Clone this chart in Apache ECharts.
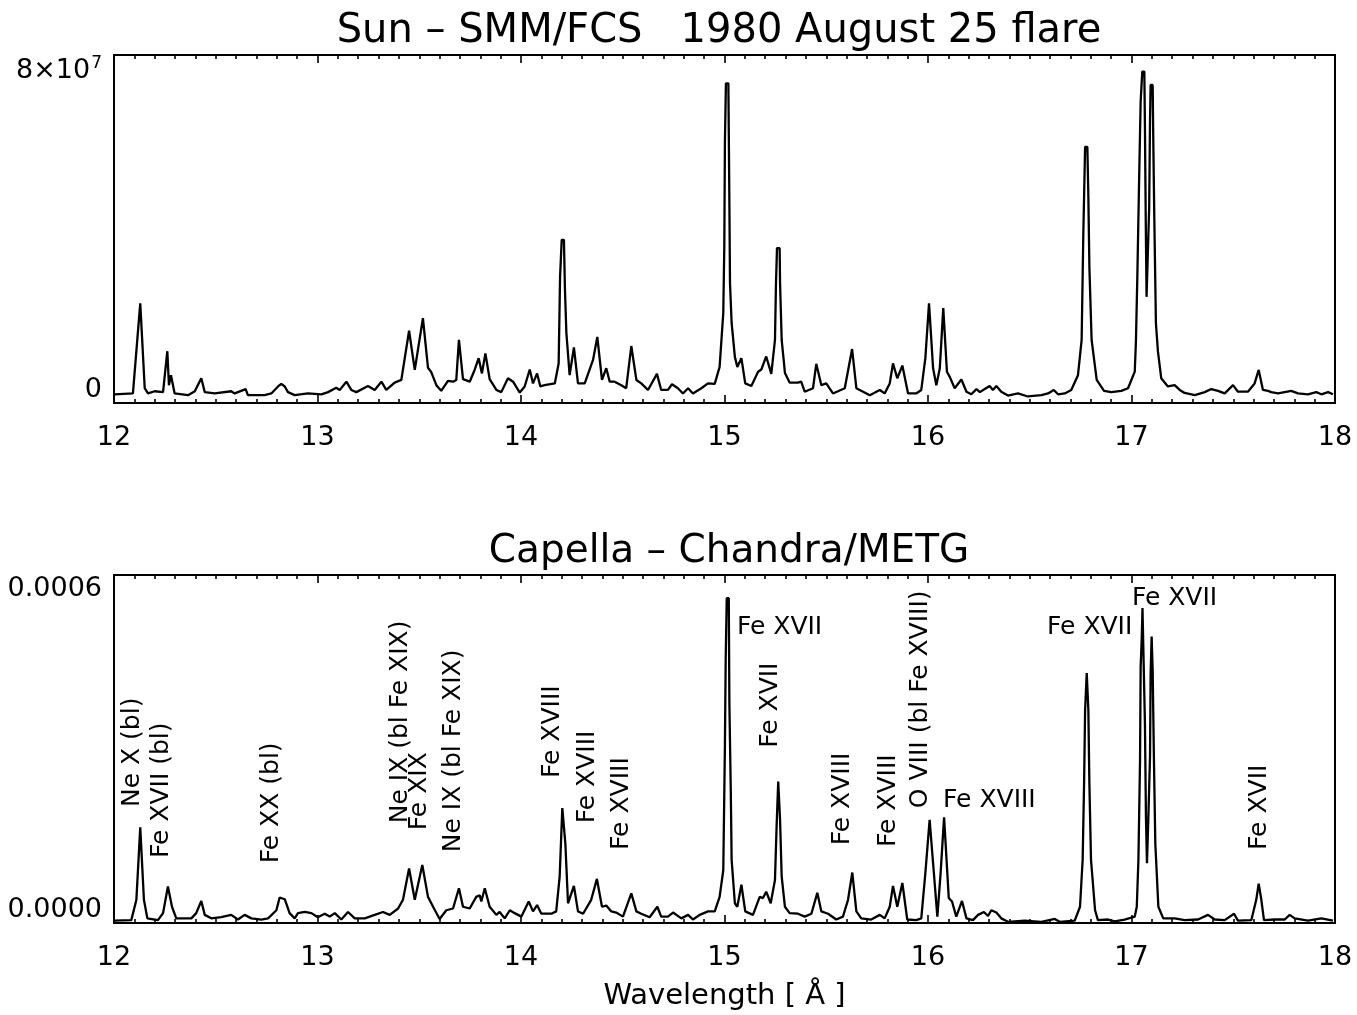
<!DOCTYPE html>
<html><head><meta charset="utf-8">
<script src="https://cdn.jsdelivr.net/npm/echarts@6/dist/echarts.min.js"></script>
<style>html,body{margin:0;padding:0;background:#fff}#chart{width:1357px;height:1015px}</style>
</head><body><div id="chart"></div>
<script>
// Sun – SMM/FCS spectrum: [wavelength (Å), flux in units of 1e7]
const sunSpectrum = [[12.003,0.20],[12.093,0.22],[12.129,2.29],[12.151,0.34],[12.167,0.22],[12.200,0.27],[12.241,0.25],[12.262,1.19],[12.270,0.41],[12.280,0.64],[12.298,0.22],[12.364,0.18],[12.397,0.27],[12.429,0.57],[12.446,0.25],[12.495,0.22],[12.576,0.27],[12.593,0.22],[12.647,0.32],[12.658,0.18],[12.740,0.18],[12.773,0.22],[12.806,0.38],[12.822,0.44],[12.839,0.38],[12.855,0.25],[12.888,0.18],[12.953,0.22],[13.019,0.20],[13.052,0.25],[13.092,0.35],[13.109,0.30],[13.142,0.49],[13.166,0.30],[13.191,0.25],[13.248,0.39],[13.281,0.30],[13.314,0.49],[13.338,0.30],[13.379,0.47],[13.412,0.53],[13.450,1.66],[13.478,0.76],[13.518,1.95],[13.543,0.81],[13.559,0.71],[13.584,0.41],[13.608,0.28],[13.641,0.51],[13.666,0.49],[13.682,0.53],[13.695,1.45],[13.715,0.55],[13.748,0.49],[13.772,0.76],[13.792,1.03],[13.808,0.68],[13.825,1.14],[13.846,0.55],[13.879,0.30],[13.903,0.25],[13.936,0.57],[13.961,0.49],[13.994,0.24],[14.018,0.38],[14.043,0.77],[14.059,0.45],[14.079,0.68],[14.095,0.38],[14.116,0.41],[14.166,0.45],[14.185,0.91],[14.192,2.90],[14.200,3.75],[14.211,3.75],[14.216,2.60],[14.223,1.61],[14.239,0.64],[14.260,1.28],[14.280,0.45],[14.313,0.45],[14.354,0.99],[14.375,1.52],[14.398,0.53],[14.419,0.80],[14.436,0.49],[14.460,0.49],[14.493,0.41],[14.517,0.34],[14.542,1.31],[14.567,0.53],[14.591,0.45],[14.624,0.30],[14.668,0.67],[14.689,0.30],[14.722,0.30],[14.742,0.43],[14.771,0.34],[14.796,0.22],[14.821,0.34],[14.845,0.22],[14.886,0.34],[14.919,0.45],[14.952,0.44],[14.976,0.83],[14.994,2.07],[14.999,3.59],[15.002,5.97],[15.007,7.35],[15.019,7.35],[15.024,4.60],[15.027,2.76],[15.035,1.84],[15.051,1.06],[15.063,0.83],[15.083,1.03],[15.102,0.45],[15.132,0.39],[15.165,0.72],[15.181,0.77],[15.205,1.07],[15.230,0.67],[15.248,1.45],[15.253,2.75],[15.258,3.56],[15.271,3.56],[15.273,2.75],[15.281,1.45],[15.297,0.69],[15.320,0.47],[15.361,0.47],[15.377,0.49],[15.394,0.26],[15.435,0.34],[15.451,0.90],[15.476,0.41],[15.500,0.45],[15.533,0.22],[15.591,0.34],[15.627,1.24],[15.648,0.34],[15.681,0.26],[15.714,0.18],[15.763,0.30],[15.787,0.22],[15.812,0.45],[15.828,0.91],[15.849,0.57],[15.874,0.86],[15.902,0.22],[15.942,0.22],[15.967,0.30],[15.987,1.03],[16.005,2.29],[16.025,0.80],[16.041,0.41],[16.058,0.80],[16.075,2.18],[16.093,0.72],[16.107,0.60],[16.131,0.34],[16.164,0.54],[16.189,0.26],[16.213,0.20],[16.238,0.32],[16.255,0.25],[16.279,0.32],[16.303,0.39],[16.319,0.30],[16.336,0.39],[16.360,0.26],[16.393,0.17],[16.442,0.22],[16.491,0.15],[16.557,0.18],[16.590,0.22],[16.618,0.30],[16.639,0.20],[16.672,0.22],[16.704,0.30],[16.737,0.64],[16.755,1.45],[16.763,3.82],[16.772,5.89],[16.783,5.89],[16.788,4.74],[16.793,3.13],[16.804,1.45],[16.829,0.53],[16.865,0.28],[16.901,0.25],[16.950,0.28],[16.983,0.34],[17.016,0.72],[17.022,1.45],[17.029,2.98],[17.038,5.28],[17.045,6.93],[17.053,7.62],[17.063,7.62],[17.066,6.35],[17.070,4.21],[17.074,2.44],[17.083,2.44],[17.087,4.51],[17.091,6.51],[17.094,7.31],[17.104,7.31],[17.107,6.05],[17.112,4.28],[17.120,1.83],[17.130,1.18],[17.146,0.57],[17.179,0.38],[17.212,0.41],[17.237,0.30],[17.261,0.23],[17.311,0.18],[17.360,0.25],[17.392,0.32],[17.425,0.28],[17.458,0.22],[17.499,0.41],[17.523,0.26],[17.572,0.26],[17.605,0.45],[17.625,0.76],[17.646,0.30],[17.671,0.28],[17.687,0.25],[17.720,0.22],[17.785,0.28],[17.818,0.22],[17.867,0.20],[17.908,0.25],[17.933,0.20],[17.966,0.25],[17.990,0.20]];

// Capella – Chandra/METG spectrum: [wavelength (Å), flux in units of 1e-4]
const capellaSpectrum = [[12.003,0.04],[12.085,0.05],[12.110,0.40],[12.129,1.65],[12.147,0.40],[12.164,0.08],[12.216,0.05],[12.241,0.17],[12.265,0.63],[12.285,0.28],[12.306,0.08],[12.380,0.08],[12.404,0.17],[12.429,0.38],[12.446,0.14],[12.478,0.08],[12.527,0.10],[12.576,0.14],[12.609,0.06],[12.642,0.14],[12.675,0.08],[12.724,0.06],[12.757,0.08],[12.798,0.22],[12.814,0.44],[12.839,0.41],[12.863,0.17],[12.888,0.08],[12.904,0.17],[12.937,0.19],[12.970,0.17],[13.002,0.10],[13.035,0.16],[13.060,0.11],[13.085,0.17],[13.117,0.06],[13.150,0.19],[13.183,0.08],[13.232,0.08],[13.281,0.14],[13.322,0.19],[13.355,0.14],[13.396,0.25],[13.420,0.40],[13.450,0.94],[13.478,0.40],[13.515,1.00],[13.543,0.45],[13.568,0.28],[13.600,0.07],[13.633,0.22],[13.666,0.25],[13.695,0.60],[13.715,0.28],[13.748,0.25],[13.780,0.45],[13.797,0.48],[13.805,0.37],[13.822,0.60],[13.846,0.28],[13.879,0.14],[13.895,0.19],[13.920,0.08],[13.945,0.22],[13.969,0.17],[14.002,0.11],[14.038,0.37],[14.059,0.20],[14.079,0.31],[14.100,0.16],[14.149,0.16],[14.173,0.20],[14.190,0.80],[14.203,1.98],[14.211,1.98],[14.218,1.37],[14.231,0.34],[14.260,0.64],[14.280,0.20],[14.305,0.16],[14.345,0.40],[14.373,0.76],[14.398,0.28],[14.419,0.30],[14.444,0.20],[14.468,0.18],[14.501,0.11],[14.542,0.51],[14.567,0.20],[14.591,0.16],[14.632,0.10],[14.670,0.28],[14.689,0.11],[14.722,0.11],[14.747,0.18],[14.788,0.08],[14.821,0.14],[14.845,0.06],[14.878,0.14],[14.919,0.20],[14.952,0.20],[14.976,0.45],[14.994,0.91],[15.002,3.04],[15.006,4.59],[15.011,5.60],[15.021,5.60],[15.024,3.79],[15.031,2.24],[15.035,1.09],[15.051,0.34],[15.063,0.28],[15.083,0.66],[15.102,0.20],[15.140,0.14],[15.173,0.45],[15.189,0.43],[15.205,0.54],[15.227,0.34],[15.248,0.74],[15.256,1.66],[15.264,2.44],[15.273,1.78],[15.281,0.80],[15.297,0.28],[15.320,0.17],[15.361,0.16],[15.394,0.11],[15.427,0.16],[15.456,0.52],[15.476,0.20],[15.509,0.16],[15.549,0.06],[15.582,0.11],[15.607,0.40],[15.628,0.87],[15.648,0.20],[15.672,0.08],[15.721,0.06],[15.763,0.14],[15.787,0.08],[15.812,0.28],[15.828,0.64],[15.849,0.28],[15.874,0.69],[15.898,0.06],[15.942,0.05],[15.967,0.08],[15.987,0.86],[16.008,1.78],[16.025,1.03],[16.046,0.11],[16.062,0.86],[16.079,1.82],[16.095,0.86],[16.102,0.43],[16.118,0.37],[16.139,0.11],[16.167,0.38],[16.189,0.08],[16.221,0.05],[16.246,0.14],[16.275,0.19],[16.295,0.12],[16.311,0.22],[16.336,0.18],[16.360,0.08],[16.393,0.02],[16.475,0.04],[16.557,0.02],[16.623,0.07],[16.647,0.02],[16.721,0.04],[16.747,0.28],[16.760,1.09],[16.767,2.41],[16.772,3.67],[16.780,4.31],[16.788,3.67],[16.793,2.41],[16.801,1.09],[16.821,0.22],[16.835,0.05],[16.885,0.06],[16.917,0.03],[16.966,0.06],[17.016,0.11],[17.026,0.28],[17.034,1.09],[17.042,2.81],[17.045,4.42],[17.050,4.88],[17.054,5.43],[17.060,5.43],[17.066,3.44],[17.071,1.83],[17.076,1.03],[17.083,1.83],[17.091,2.87],[17.094,4.31],[17.099,4.94],[17.104,4.36],[17.110,2.87],[17.117,1.37],[17.132,0.28],[17.156,0.08],[17.212,0.08],[17.261,0.05],[17.327,0.06],[17.376,0.14],[17.409,0.06],[17.458,0.05],[17.504,0.16],[17.523,0.04],[17.589,0.05],[17.613,0.40],[17.625,0.68],[17.638,0.40],[17.651,0.05],[17.703,0.06],[17.753,0.06],[17.777,0.14],[17.802,0.08],[17.867,0.04],[17.933,0.08],[17.990,0.04]];

// Texts
const sunTitle = 'Sun – SMM/FCS   1980 August 25 flare';
const capellaTitle = 'Capella – Chandra/METG';
const xAxisTitle = 'Wavelength [ Å ]';

// Line identifications (Capella panel), vertical text: wavelength (Å) and base height (1e-4)
const vertLabels = ['Ne X (bl)', 'Fe XVII (bl)', 'Fe XX (bl)', 'Ne IX (bl Fe XIX)', 'Fe XIX', 'Ne IX (bl Fe XIX)', 'Fe XVIII', 'Fe XVIII', 'Fe XVIII', 'Fe XVII', 'Fe XVIII', 'Fe XVIII', 'O VIII (bl Fe XVIII)', 'Fe XVII'];
const vertLambda = [12.093, 12.231, 12.776, 13.410, 13.499, 13.666, 14.157, 14.329, 14.496, 15.224, 15.582, 15.808, 15.961, 17.631];
const vertHeight = [2.00, 1.12, 1.03, 1.72, 1.60, 1.22, 2.50, 1.72, 1.26, 3.02, 1.34, 1.31, 1.98, 1.26];
// horizontal text: left wavelength and middle height
const horizLabels = ['Fe XVII', 'Fe XVIII', 'Fe XVII', 'Fe XVII'];
const horizLambda = [15.061, 16.074, 16.585, 17.002];
const horizHeight = [5.10, 2.12, 5.10, 5.60];

const FONT = 'DejaVu Sans';
const chart = echarts.init(document.getElementById('chart'));

function xAxes(gridIndex, showName) {
  const base = {
    gridIndex, type: 'value', min: 12, max: 18, interval: 1,
    axisLine: { show: true, lineStyle: { color: '#000', width: 2 } },
    axisTick: { show: true, inside: true, length: 8, lineStyle: { color: '#000', width: 1.6 } },
    minorTick: { show: true, splitNumber: 10, length: 4, lineStyle: { color: '#000', width: 1.6 } },
    splitLine: { show: false }, minorSplitLine: { show: false }
  };
  const bottom = Object.assign({}, base, {
    position: 'bottom',
    axisLabel: { show: true, color: '#000', fontFamily: FONT, fontSize: 27, margin: 21 }
  });
  if (showName) {
    Object.assign(bottom, {
      name: xAxisTitle, nameLocation: 'middle', nameGap: 59,
      nameTextStyle: { color: '#000', fontFamily: FONT, fontSize: 29 }
    });
  }
  const top = Object.assign({}, base, { position: 'top', axisLabel: { show: false } });
  return [bottom, top];
}

function yAxis(gridIndex, max, formatter) {
  return {
    gridIndex, type: 'value', min: 0, max: max, interval: max,
    axisLine: { show: true, lineStyle: { color: '#000', width: 2 } },
    axisTick: { show: false }, splitLine: { show: false },
    axisLabel: {
      color: '#000', fontFamily: FONT, fontSize: 27, margin: 12,
      verticalAlignMinLabel: 'bottom', verticalAlignMaxLabel: 'top',
      formatter: formatter,
      rich: {
        b: { fontFamily: FONT, fontSize: 27, color: '#000' },
        s: { fontFamily: FONT, fontSize: 17, color: '#000', verticalAlign: 'top', padding: [0, 0, 14, 1] }
      }
    }
  };
}

const labelBase = { show: true, color: '#000', opacity: 1, fontFamily: FONT, fontSize: 25, formatter: '{b}', position: 'inside', align: 'left', verticalAlign: 'middle' };

chart.setOption({
  animation: false,
  backgroundColor: '#fff',
  title: [
    { text: sunTitle, left: 714, top: 6, textAlign: 'center', textStyle: { color: '#000', fontFamily: FONT, fontSize: 40, fontWeight: 'normal', lineHeight: 42 } },
    { text: capellaTitle, left: 724, top: 526, textAlign: 'center', textStyle: { color: '#000', fontFamily: FONT, fontSize: 39, fontWeight: 'normal', lineHeight: 42 } }
  ],
  grid: [
    { left: 114, right: 22, top: 55, height: 348, show: true, borderColor: '#000', borderWidth: 2, backgroundColor: 'transparent' },
    { left: 114, right: 22, top: 575, height: 348, show: true, borderColor: '#000', borderWidth: 2, backgroundColor: 'transparent' }
  ],
  xAxis: [].concat(xAxes(0, false), xAxes(1, true)),
  yAxis: [
    yAxis(0, 8, v => v === 0 ? '{b|0}' : '{b|8×10}{s|7}'),
    yAxis(1, 6, v => (v * 1e-4).toFixed(4))
  ],
  series: [
    { type: 'line', xAxisIndex: 0, yAxisIndex: 0, data: sunSpectrum, showSymbol: false, symbol: 'none', lineStyle: { color: '#000', width: 2.3 }, silent: true },
    { type: 'line', xAxisIndex: 2, yAxisIndex: 1, data: capellaSpectrum, showSymbol: false, symbol: 'none', lineStyle: { color: '#000', width: 2.3 }, silent: true },
    { type: 'scatter', xAxisIndex: 2, yAxisIndex: 1, symbolSize: 0, silent: true, itemStyle: { opacity: 1 },
      data: vertLabels.map((t, i) => ({ name: t, value: [vertLambda[i], vertHeight[i]] })),
      label: Object.assign({}, labelBase, { rotate: 90 }) },
    { type: 'scatter', xAxisIndex: 2, yAxisIndex: 1, symbolSize: 0, silent: true, itemStyle: { opacity: 1 },
      data: horizLabels.map((t, i) => ({ name: t, value: [horizLambda[i], horizHeight[i]] })),
      label: Object.assign({}, labelBase) }
  ]
});
</script></body></html>
